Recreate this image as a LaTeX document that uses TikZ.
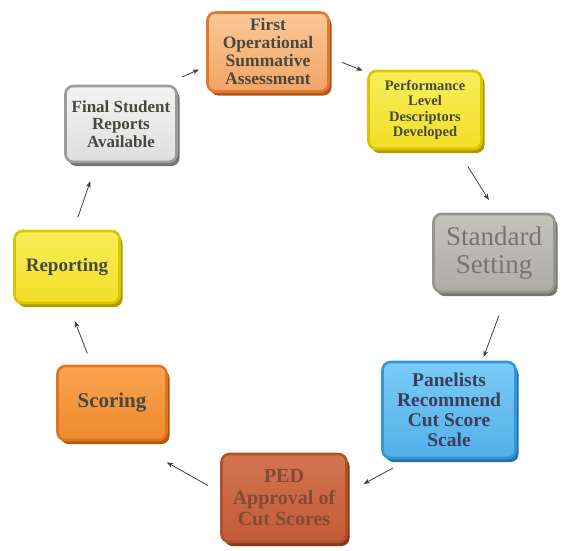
\documentclass[tikz,border=0pt]{standalone}
\usepackage{fontspec}
\setmainfont{Liberation Serif}
\usetikzlibrary{shadows,arrows.meta}
\definecolor{txt}{HTML}{48483F}
\definecolor{oBd}{HTML}{DD7A30}\definecolor{oT}{HTML}{FAC897}\definecolor{oB}{HTML}{F3A464}\definecolor{oX}{HTML}{B0581C}
\definecolor{yBd}{HTML}{DCC400}\definecolor{yT}{HTML}{F8EE5A}\definecolor{yB}{HTML}{F2DE28}\definecolor{yX}{HTML}{B09A00}
\definecolor{gBd}{HTML}{96968F}\definecolor{gT}{HTML}{C4C4BD}\definecolor{gB}{HTML}{ADADA6}\definecolor{gX}{HTML}{76766F}
\definecolor{bBd}{HTML}{3496D6}\definecolor{bT}{HTML}{7ACCF6}\definecolor{bB}{HTML}{52B0E8}\definecolor{bX}{HTML}{2470A8}
\definecolor{rBd}{HTML}{B0502C}\definecolor{rT}{HTML}{D47450}\definecolor{rB}{HTML}{C25C38}\definecolor{rX}{HTML}{86381C}
\definecolor{sBd}{HTML}{E27420}\definecolor{sT}{HTML}{F8A450}\definecolor{sB}{HTML}{F08A2C}\definecolor{sX}{HTML}{B0580E}
\definecolor{fBd}{HTML}{9C9C9C}\definecolor{fT}{HTML}{F4F4F4}\definecolor{fB}{HTML}{DEDEDE}\definecolor{fX}{HTML}{747474}
\tikzset{
  box/.style={rounded corners=8pt, line width=2.6pt, align=center, text=txt,
    inner sep=1pt, font=\bfseries},
  tone/.style n args={4}{draw=#1, top color=#2, bottom color=#3,
    drop shadow={shadow xshift=3pt, shadow yshift=-4pt, fill=#4, opacity=1}},
  arr/.style={draw=black!75, line width=0.8pt, -{Stealth[length=6.5pt,width=5pt]}}
}
\begin{document}
\begin{tikzpicture}[x=1pt,y=-1pt]
\useasboundingbox (0,0) rectangle (564,550);
\node[box, tone={oBd}{oT}{oB}{oX}, minimum width=121pt, minimum height=79pt,
  font=\bfseries\fontsize{17.5}{18}\selectfont] (first) at (268,52)
  {First\\Operational\\Summative\\Assessment};
\node[box, tone={yBd}{yT}{yB}{yX}, minimum width=113pt, minimum height=78pt,
  font=\bfseries\fontsize{14.5}{15.5}\selectfont] (pld) at (425,110)
  {Performance\\Level\\Descriptors\\Developed};
\node[box, tone={gBd}{gT}{gB}{gX}, minimum width=121pt, minimum height=78pt,
  font=\fontsize{27}{28}\selectfont, text=gX] (std) at (494,253)
  {Standard\\Setting};
\node[box, tone={bBd}{bT}{bB}{bX}, minimum width=133pt, minimum height=96pt,
  font=\bfseries\fontsize{19.5}{20}\selectfont, text=txt!85!blue] (pan) at (449,410)
  {Panelists\\Recommend\\Cut Score\\Scale};
\node[box, tone={rBd}{rT}{rB}{rX}, minimum width=125pt, minimum height=88pt,
  font=\bfseries\fontsize{20}{21.5}\selectfont, text=rX!75!gray] (ped) at (284,498)
  {PED\\Approval of\\Cut Scores};
\node[box, tone={sBd}{sT}{sB}{sX}, minimum width=109pt, minimum height=74pt,
  font=\bfseries\fontsize{21}{22}\selectfont] (sco) at (112,403) {Scoring};
\node[box, tone={yBd}{yT}{yB}{yX}, minimum width=105pt, minimum height=72pt,
  font=\bfseries\fontsize{19}{20}\selectfont] (rep) at (67,267) {Reporting};
\node[box, tone={fBd}{fT}{fB}{fX}, minimum width=111pt, minimum height=76pt,
  font=\bfseries\fontsize{17}{17.5}\selectfont] (fin) at (121,124)
  {Final Student\\Reports\\Available};
\draw[arr, shorten <=19pt, shorten >=8pt] (fin.42) -- (first.193);
\draw[arr, shorten <=13pt, shorten >=5pt] (first.-5) -- (pld.147);
\draw[arr, shorten <=19pt, shorten >=15pt] (pld.-51) -- (std.86);
\draw[arr, shorten <=24pt, shorten >=4pt] (std.-72) -- (pan.56);
\draw[arr, shorten <=18pt, shorten >=18pt] (pan.231) -- (ped.5);
\draw[arr, shorten <=14pt] (ped.175) -- ([shift={(-1,21)}]sco.south east);
\draw[arr, shorten <=12pt, shorten >=18pt] (sco.118) -- (rep.-88);
\draw[arr, shorten <=13pt, shorten >=19pt] (rep.80) -- (fin.238);
\end{tikzpicture}
\end{document}
